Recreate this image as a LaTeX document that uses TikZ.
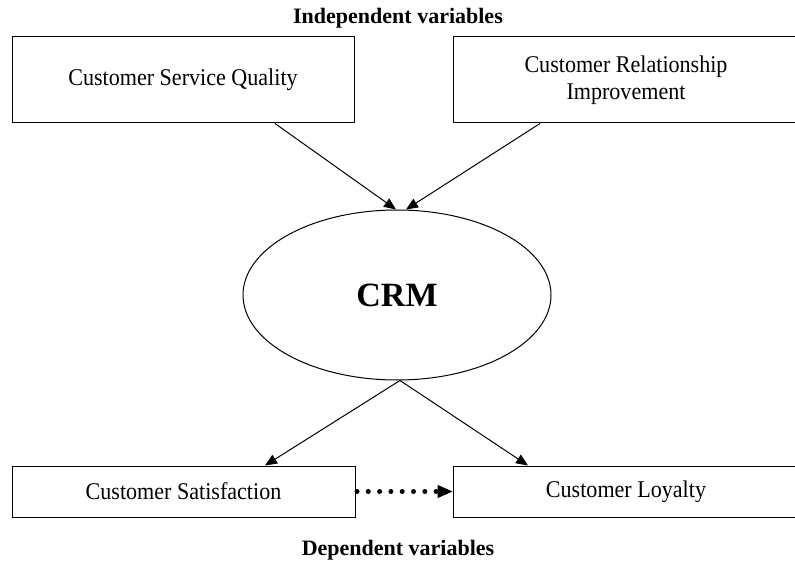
\documentclass[tikz,border=0pt]{standalone}
\usepackage{fontspec}
\setmainfont{Liberation Serif}
\newfontfamily\boxfont{Liberation Serif}[FakeStretch=0.92]
\usetikzlibrary{arrows.meta,shapes.geometric}
\tikzset{
  varbox/.style={draw, line width=1pt, rectangle, inner sep=0pt, align=center,
    font=\boxfont\fontsize{24}{27}\selectfont},
  title/.style={font=\bfseries\fontsize{22}{26}\selectfont, inner sep=0pt},
  conn/.style={line width=1pt, -{Triangle[length=12pt,width=10pt]}},
  dotline/.style={line width=5pt, line cap=round, dash pattern=on 0pt off 11.3pt},
}
\begin{document}
\begin{tikzpicture}[x=1pt,y=-1pt]
\useasboundingbox (0,0) rectangle (795,561);
\node[title] (indep) at (398,18) {Independent variables};
\node[varbox, minimum width=342pt, minimum height=86pt] (csq) at (183,80) {Customer Service Quality};
\node[varbox, minimum width=346pt, minimum height=86pt] (cri) at (626,80) {Customer Relationship\\Improvement};
\node[draw, ellipse, line width=1pt, minimum width=308pt, minimum height=170pt, inner sep=0pt,
  font=\bfseries\fontsize{34}{40}\selectfont] (crm) at (397,295) {CRM};
\node[varbox, minimum width=343pt, minimum height=51pt] (cs) at (183.5,491.5) {Customer Satisfaction};
\node[varbox, minimum width=346pt, minimum height=51pt] (cl) at (626,491.5) {Customer Loyalty};
\node[title] (dep) at (398,550) {Dependent variables};
\draw[conn] ([xshift=92pt]csq.south) -- ([xshift=-1pt]crm.north);
\draw[conn] ([xshift=-86pt]cri.south) -- ([xshift=9pt]crm.north);
\draw[conn] ([xshift=3pt]crm.south) -- ([xshift=81.5pt]cs.north);
\draw[conn] ([xshift=3pt]crm.south) -- ([xshift=-98pt]cl.north);
\draw[dotline] ([xshift=1.5pt]cs.east) -- ([xshift=-16pt]cl.west);
\coordinate (tipstart) at ([xshift=-16pt]cl.west);
\draw[line width=1pt, -{Triangle[length=15pt,width=13pt]}] (tipstart) -- (cl.west);
\end{tikzpicture}
\end{document}
